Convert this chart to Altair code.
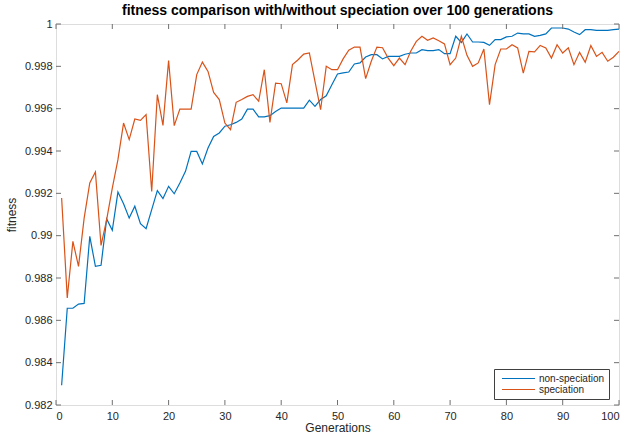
import altair as alt
import pandas as pd

generations = list(range(1, 101))

non_speciation = [
    0.98293, 0.98657, 0.98657, 0.98677, 0.98680, 0.98997, 0.98855, 0.98860, 0.99079, 0.99025,
    0.99206, 0.99151, 0.99083, 0.99139, 0.99057, 0.99033, 0.99123, 0.99213, 0.99175, 0.99233,
    0.99198, 0.99249, 0.99304, 0.99398, 0.99398, 0.99339, 0.99414, 0.99469, 0.99485, 0.99517,
    0.99524, 0.99535, 0.99551, 0.99598, 0.99598, 0.99561, 0.99561, 0.99567, 0.99587, 0.99603,
    0.99603, 0.99603, 0.99603, 0.99603, 0.99640, 0.99611, 0.99643, 0.99661, 0.99713, 0.99764,
    0.99769, 0.99773, 0.99811, 0.99816, 0.99844, 0.99855, 0.99855, 0.99835, 0.99847, 0.99847,
    0.99847, 0.99857, 0.99863, 0.99863, 0.99879, 0.99874, 0.99874, 0.99879, 0.99860, 0.99860,
    0.99942, 0.99913, 0.99953, 0.99915, 0.99915, 0.99913, 0.99899, 0.99926, 0.99926, 0.99939,
    0.99942, 0.99957, 0.99953, 0.99953, 0.99942, 0.99946, 0.99953, 0.99981, 0.99981, 0.99981,
    0.99976, 0.99962, 0.99950, 0.99973, 0.99973, 0.99970, 0.99970, 0.99970, 0.99973, 0.99976,
]

speciation = [
    0.99178, 0.98706, 0.98973, 0.98855, 0.99083, 0.99249, 0.99301, 0.98954, 0.99076, 0.99225,
    0.99359, 0.99532, 0.99454, 0.99551, 0.99545, 0.99572, 0.99209, 0.99666, 0.99521, 0.99827,
    0.99520, 0.99598, 0.99598, 0.99598, 0.99761, 0.99820, 0.99776, 0.99677, 0.99643, 0.99532,
    0.99501, 0.99630, 0.99643, 0.99658, 0.99666, 0.99635, 0.99784, 0.99535, 0.99721, 0.99718,
    0.99627, 0.99808, 0.99831, 0.99858, 0.99863, 0.99729, 0.99595, 0.99800, 0.99784, 0.99784,
    0.99835, 0.99876, 0.99891, 0.99891, 0.99742, 0.99824, 0.99891, 0.99888, 0.99839, 0.99803,
    0.99839, 0.99808, 0.99871, 0.99918, 0.99942, 0.99923, 0.99934, 0.99921, 0.99906, 0.99808,
    0.99839, 0.99942, 0.99852, 0.99800, 0.99816, 0.99882, 0.99619, 0.99808, 0.99882, 0.99882,
    0.99902, 0.99887, 0.99768, 0.99871, 0.99868, 0.99899, 0.99887, 0.99839, 0.99902, 0.99863,
    0.99887, 0.99808, 0.99866, 0.99819, 0.99898, 0.99847, 0.99866, 0.99824, 0.99843, 0.99871,
]

series_names = ["non-speciation", "speciation"]
series_colors = ["#0072BD", "#D95319"]
x_ticks = [0, 10, 20, 30, 40, 50, 60, 70, 80, 90, 100]
y_ticks = [0.982, 0.984, 0.986, 0.988, 0.99, 0.992, 0.994, 0.996, 0.998, 1.0]

W, H = 563, 381
FONT = "Liberation Sans"
BOX = "#707070"
TXT = "#262626"
TICK_LEN = 5

df = pd.DataFrame({
    "generation": generations * 2,
    "fitness": non_speciation + speciation,
    "series": [series_names[0]] * len(generations) + [series_names[1]] * len(generations),
})
xt = pd.DataFrame({"generation": x_ticks})
yt = pd.DataFrame({"fitness": y_ticks})

xscale = alt.Scale(domain=[0, 100], nice=False, zero=False)
yscale = alt.Scale(domain=[0.982, 1.0], nice=False, zero=False)

x_axis = alt.Axis(values=x_ticks, ticks=False, tickSize=0, domain=False, grid=False,
                  labelPadding=5, labelFontSize=11, labelFont=FONT, labelColor=TXT,
                  title="Generations", titleFont=FONT, titleFontSize=12,
                  titleFontWeight="normal", titleColor=TXT, titleBaseline="alphabetic",
                  titleY=26, titleX=W / 2)
y_axis = alt.Axis(values=y_ticks, ticks=False, tickSize=0, domain=False, grid=False,
                  labelPadding=4, labelFontSize=11, labelFont=FONT, labelColor=TXT,
                  labelExpr="format(datum.value, '.3~f')",
                  title="fitness", titleFont=FONT, titleFontSize=12,
                  titleFontWeight="normal", titleColor=TXT, titleBaseline="bottom",
                  titleX=-38, titleY=H / 2, titleAngle=-90)

X = alt.X("generation:Q", scale=xscale, axis=x_axis)
Y = alt.Y("fitness:Q", scale=yscale, axis=y_axis)

lines = alt.Chart(df).mark_line(strokeWidth=1.2).encode(
    x=X,
    y=Y,
    color=alt.Color("series:N", scale=alt.Scale(domain=series_names, range=series_colors),
                    legend=alt.Legend(title=None, orient="none", legendX=438, legendY=345,
                                      direction="vertical", symbolType="stroke", symbolSize=1089,
                                      clipHeight=11, symbolStrokeWidth=1.2, symbolOffset=3,
                                      labelOffset=3, labelFont=FONT, labelFontSize=10,
                                      labelColor=TXT, padding=4, rowPadding=0,
                                      strokeColor="#404040", fillColor="white")),
    order="generation:Q",
)

xt_top = alt.Chart(xt).mark_rule(color=BOX, strokeWidth=1).encode(
    x=X, y=alt.value(0), y2=alt.value(TICK_LEN))
xt_bot = alt.Chart(xt).mark_rule(color=BOX, strokeWidth=1).encode(
    x=X, y=alt.value(H - TICK_LEN), y2=alt.value(H))
yt_left = alt.Chart(yt).mark_rule(color=BOX, strokeWidth=1).encode(
    y=Y, x=alt.value(0), x2=alt.value(TICK_LEN))
yt_right = alt.Chart(yt).mark_rule(color=BOX, strokeWidth=1).encode(
    y=Y, x=alt.value(W - TICK_LEN), x2=alt.value(W))

chart = alt.layer(lines, xt_top, xt_bot, yt_left, yt_right).properties(
    width=W, height=H,
    autosize=alt.AutoSizeParams(type="none"),
    padding={"left": 56, "top": 24, "right": 8, "bottom": 30},
    title=alt.Title("fitness comparison with/without speciation over 100 generations",
                    font=FONT, fontSize=14, fontWeight="bold", color="black",
                    anchor="middle", baseline="alphabetic", offset=8, dy=19),
).configure_view(stroke=BOX, strokeWidth=1).configure(background="white")

chart.save("out.html", embed_options={"renderer": "svg", "actions": False})
